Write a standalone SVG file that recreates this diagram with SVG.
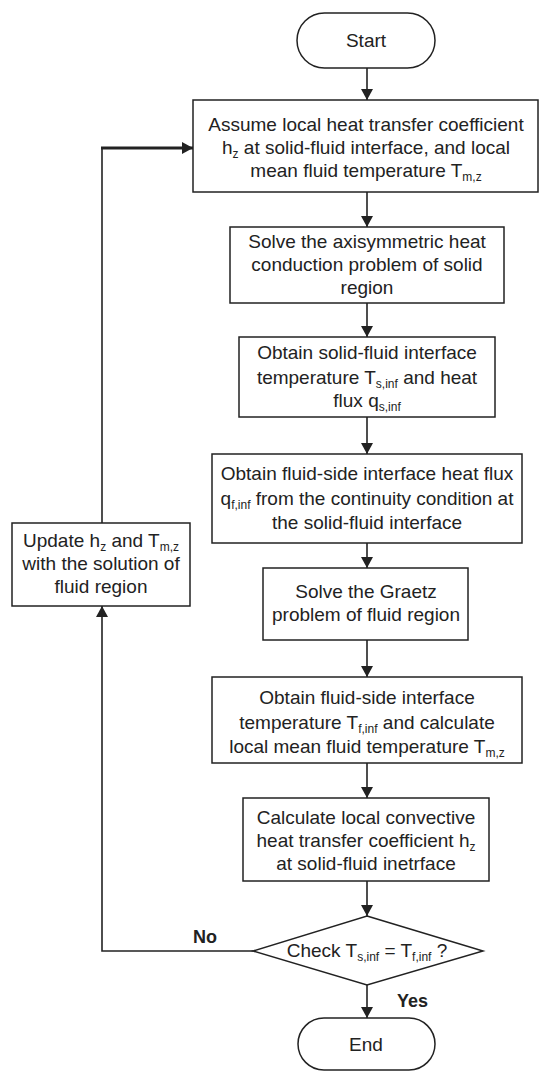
<svg xmlns="http://www.w3.org/2000/svg" width="540" height="1073" viewBox="0 0 540 1073">
<defs>
<style>
.box{fill:#fff;stroke:#222;stroke-width:1.5}
.t{font-family:"Liberation Sans",Arial,sans-serif;font-size:19px;fill:#222;text-anchor:middle}
.lbl{font-family:"Liberation Sans",Arial,sans-serif;font-size:18px;font-weight:bold;fill:#222}
.s{font-size:12px}
.ln{fill:none;stroke:#222;stroke-width:1.6}
</style>
<marker id="ah" markerUnits="userSpaceOnUse" markerWidth="12" markerHeight="12" refX="11" refY="6" orient="auto"><path d="M0,0 L11,6 L0,12 z" fill="#222"/></marker>
</defs>
<rect width="540" height="1073" fill="#fff"/>
<g id="connectors">
<line class="ln" x1="367" y1="68" x2="367" y2="100" marker-end="url(#ah)"/>
<line class="ln" x1="367" y1="192" x2="367" y2="227" marker-end="url(#ah)"/>
<line class="ln" x1="367" y1="303" x2="367" y2="337" marker-end="url(#ah)"/>
<line class="ln" x1="367" y1="417" x2="367" y2="454" marker-end="url(#ah)"/>
<line class="ln" x1="367" y1="543" x2="367" y2="568" marker-end="url(#ah)"/>
<line class="ln" x1="367" y1="640" x2="367" y2="677" marker-end="url(#ah)"/>
<line class="ln" x1="367" y1="763" x2="367" y2="798" marker-end="url(#ah)"/>
<line class="ln" x1="367" y1="881" x2="367" y2="916" marker-end="url(#ah)"/>
<line class="ln" x1="367" y1="985" x2="367" y2="1018" marker-end="url(#ah)"/>
<polyline class="ln" points="253,951 102,951 102,606" marker-end="url(#ah)"/>
<line class="ln" x1="102" y1="523" x2="102" y2="148"/>
<line class="ln" x1="101" y1="148" x2="193" y2="148" style="stroke-width:3" marker-end="url(#ah)"/>
<text class="lbl" x="193" y="943">No</text>
<text class="lbl" x="397" y="1007">Yes</text>
</g>
<g id="start">
<rect class="box" x="297" y="13" width="138" height="55" rx="27.5"/>
<text class="t" x="366" y="47">Start</text>
</g>
<g id="assume">
<rect class="box" x="193" y="100" width="345" height="92"/>
<text class="t" x="366" y="131">Assume local heat transfer coefficient</text>
<text class="t" x="366" y="154">h<tspan class="s" dy="4">z</tspan><tspan dy="-4"> at solid-fluid interface, and local</tspan></text>
<text class="t" x="366" y="177">mean fluid temperature T<tspan class="s" dy="4">m,z</tspan></text>
</g>
<g id="solve-solid">
<rect class="box" x="230" y="227" width="274" height="76"/>
<text class="t" x="367" y="248">Solve the axisymmetric heat</text>
<text class="t" x="367" y="271">conduction problem of solid</text>
<text class="t" x="367" y="294">region</text>
</g>
<g id="obtain-solid">
<rect class="box" x="239" y="337" width="256" height="80"/>
<text class="t" x="367" y="359">Obtain solid-fluid interface</text>
<text class="t" x="367" y="384">temperature T<tspan class="s" dy="4">s,inf</tspan><tspan dy="-4"> and heat</tspan></text>
<text class="t" x="367" y="407">flux  q<tspan class="s" dy="4">s,inf</tspan></text>
</g>
<g id="obtain-flux">
<rect class="box" x="212" y="454" width="310" height="89"/>
<text class="t" x="367" y="480">Obtain fluid-side interface heat flux</text>
<text class="t" x="367" y="505">q<tspan class="s" dy="4">f,inf</tspan><tspan dy="-4"> from the continuity condition at</tspan></text>
<text class="t" x="367" y="529">the solid-fluid interface</text>
</g>
<g id="graetz">
<rect class="box" x="263" y="568" width="205" height="72"/>
<text class="t" x="366" y="598">Solve the Graetz</text>
<text class="t" x="366" y="621">problem of fluid region</text>
</g>
<g id="obtain-temp">
<rect class="box" x="212" y="677" width="310" height="86"/>
<text class="t" x="367" y="704">Obtain fluid-side interface</text>
<text class="t" x="367" y="729">temperature T<tspan class="s" dy="4">f,inf</tspan><tspan dy="-4"> and calculate</tspan></text>
<text class="t" x="367" y="753">local mean fluid temperature T<tspan class="s" dy="4">m,z</tspan></text>
</g>
<g id="calculate">
<rect class="box" x="243" y="798" width="246" height="83"/>
<text class="t" x="366" y="824">Calculate local convective</text>
<text class="t" x="366" y="847">heat transfer coefficient h<tspan class="s" dy="4">z</tspan></text>
<text class="t" x="366" y="870">at solid-fluid inetrface</text>
</g>
<g id="check">
<polygon class="box" points="367,916 483,951 367,985 253,951"/>
<text class="t" x="367" y="957">Check T<tspan class="s" dy="4">s,inf</tspan><tspan dy="-4"> = T</tspan><tspan class="s" dy="4">f,inf</tspan><tspan dy="-4"> ?</tspan></text>
</g>
<g id="end">
<rect class="box" x="298" y="1018" width="137" height="52" rx="26"/>
<text class="t" x="366" y="1051">End</text>
</g>
<g id="update">
<rect class="box" x="12" y="523" width="178" height="83"/>
<text class="t" x="101" y="547">Update h<tspan class="s" dy="4">z</tspan><tspan dy="-4"> and T</tspan><tspan class="s" dy="4">m,z</tspan></text>
<text class="t" x="101" y="570">with the solution of</text>
<text class="t" x="101" y="593">fluid region</text>
</g>
</svg>
